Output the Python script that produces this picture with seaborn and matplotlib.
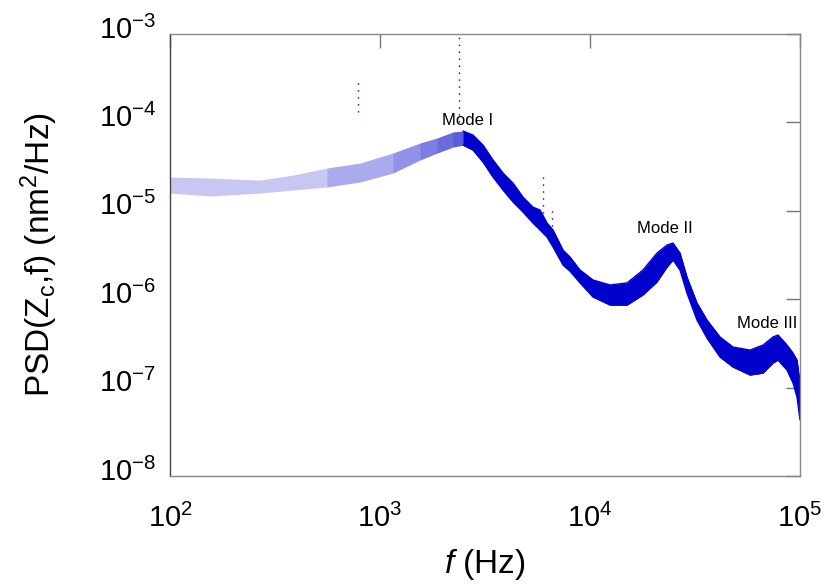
import numpy as np
import pandas as pd
import matplotlib
matplotlib.use("Agg")
import matplotlib.pyplot as plt
import matplotlib.transforms as mtransforms
import seaborn as sns

# ---- data (Hz, nm^2/Hz): lower / upper edge of the noisy PSD band ----
freq = [100, 155, 268, 385, 559, 803, 1153, 1550, 1868, 2226, 2485, 2773,
        3094, 3452, 3852, 4298, 4797, 5352, 5781, 6242, 6666, 7438, 8030,
        8963, 10335, 12455, 15006, 17884, 20845, 23263, 24844, 26827, 28963,
        32320, 36069, 41595, 47974, 57810, 66650, 74380, 78570, 86730,
        92610, 96760, 100000]
psd_high = [2.41e-5, 2.35e-5, 2.23e-5, 2.54e-5, 3.05e-5, 3.47e-5, 4.51e-5,
            5.85e-5, 6.66e-5, 7.79e-5, 7.99e-5, 7.20e-5, 5.55e-5, 3.76e-5,
            2.68e-5, 2.06e-5, 1.43e-5, 1.10e-5, 1.02e-5, 7.28e-6, 6.07e-6,
            3.60e-6, 3.00e-6, 2.14e-6, 1.65e-6, 1.45e-6, 1.53e-6, 2.14e-6,
            3.33e-6, 4.10e-6, 4.32e-6, 3.33e-6, 1.78e-6, 9.06e-7, 5.82e-7,
            3.74e-7, 2.88e-7, 2.66e-7, 3.03e-7, 3.74e-7, 3.94e-7, 3.03e-7,
            2.46e-7, 2.05e-7, 1.13e-7]
psd_low = [1.59e-5, 1.47e-5, 1.59e-5, 1.72e-5, 1.86e-5, 2.12e-5, 2.68e-5,
           3.76e-5, 4.51e-5, 5.27e-5, 5.55e-5, 4.87e-5, 3.56e-5, 2.41e-5,
           1.72e-5, 1.26e-5, 9.69e-6, 7.28e-6, 6.07e-6, 5.05e-6, 3.90e-6,
           2.44e-6, 2.08e-6, 1.53e-6, 1.06e-6, 8.60e-7, 8.60e-7, 1.12e-6,
           1.57e-6, 2.31e-6, 2.78e-6, 2.14e-6, 1.17e-6, 5.82e-7, 3.64e-7,
           2.22e-7, 1.71e-7, 1.39e-7, 1.46e-7, 1.90e-7, 2.05e-7, 1.58e-7,
           1.13e-7, 7.83e-8, 4.30e-8]

# narrow spurious spikes
spike_freq = [785, 2370, 5970, 6590]
spike_bottom = [1.31e-4, 1.0e-4, 7.9e-6, 4.7e-6]
spike_top = [2.87e-4, 1.0e-3, 2.54e-5, 1.02e-5]

# mode labels
mode_labels = ["Mode I", "Mode II", "Mode III"]
mode_freq = [2620, 22750, 69700]
mode_psd = [1.04e-4, 6.38e-6, 5.38e-7]

xticks = [1e2, 1e3, 1e4, 1e5]
yticks = [1e-8, 1e-7, 1e-6, 1e-5, 1e-4, 1e-3]

# ---- style ----
sns.set_theme(style="white")
plt.rcParams["font.family"] = ["Liberation Sans", "DejaVu Sans"]
plt.rcParams["mathtext.fontset"] = "custom"
plt.rcParams["mathtext.rm"] = "Liberation Sans"
plt.rcParams["mathtext.it"] = "Liberation Sans:italic"
plt.rcParams["axes.unicode_minus"] = False
plt.rcParams["text.color"] = "black"
plt.rcParams["axes.labelcolor"] = "black"
plt.rcParams["xtick.color"] = "black"
plt.rcParams["ytick.color"] = "black"

blue = "#0000cc"
df = pd.DataFrame({"f": freq, "lo": psd_low, "hi": psd_high})
long_df = df.melt(id_vars="f", value_vars=["lo", "hi"], var_name="edge", value_name="psd")

fig, ax = plt.subplots(figsize=(8.31, 5.87), dpi=100)
fig.subplots_adjust(left=0.2046, right=0.9627, top=0.942, bottom=0.189)

# band: sparse scatter at low frequency getting denser towards Mode I, solid above
f_arr = df["f"].to_numpy()
ax.fill_between(df["f"], df["lo"], df["hi"], color=blue, alpha=0.22, lw=0)
for start in [559, 1153, 1550, 1868, 2226]:
    m = f_arr >= start
    ax.fill_between(df["f"][m], df["lo"][m], df["hi"][m], color=blue, alpha=0.14, lw=0)
m3 = f_arr >= 2485
ax.fill_between(df["f"][m3], df["lo"][m3], df["hi"][m3], color=blue, alpha=1.0, lw=0)
sns.lineplot(data=long_df[long_df["f"] >= 2485], x="f", y="psd", hue="edge",
             palette=[blue, blue], ax=ax, lw=1.0, legend=False)

ax.vlines(spike_freq, spike_bottom, spike_top, colors=blue, linestyles=(0, (1, 4)), lw=1.0)

for lab, fx, py in zip(mode_labels, mode_freq, mode_psd):
    ax.text(fx, py, lab, ha="center", va="center", fontsize=12, color="black")

ax.set_xscale("log")
ax.set_yscale("log")
ax.set_xlim(1e2, 1e5)
ax.set_ylim(1e-8, 1e-3)
ax.set_xticks(xticks)
ax.set_yticks(yticks)
ax.minorticks_off()

ax.set_xlabel(r"$\it{f}$ (Hz)", fontsize=24, labelpad=10)
ax.set_ylabel(r"PSD(Z$_\mathregular{c}$,f) (nm$^\mathregular{2}$/Hz)", fontsize=24, labelpad=28)

ax.tick_params(axis="both", which="major", direction="in", length=10, width=1,
               color="#777777", labelsize=21, top=True, right=True)
ax.tick_params(axis="x", pad=20)
ax.tick_params(axis="y", pad=10)
offset = mtransforms.ScaledTranslation(0, 7 / 100, fig.dpi_scale_trans)
for lbl in ax.get_yticklabels():
    lbl.set_transform(lbl.get_transform() + offset)

for s in ax.spines.values():
    s.set_color("#888888")
    s.set_linewidth(1.0)
ax.spines["left"].set_color("#444444")
ax.grid(False)

fig.savefig("out.png", dpi=100)
